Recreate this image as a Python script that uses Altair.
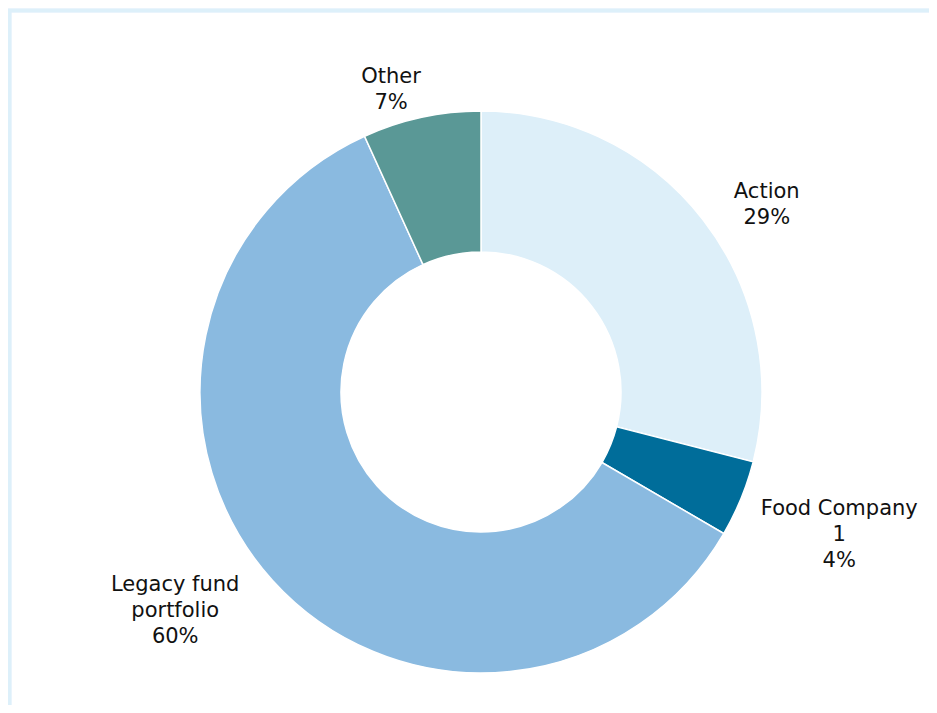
import altair as alt
import pandas as pd

# ---- data ----
categories = ["Action", "Food Company 1", "Legacy fund portfolio", "Other"]
values = [29.0, 4.4, 59.8, 6.8]
labels = ["Action\n29%", "Food Company\n1\n4%", "Legacy fund\nportfolio\n60%", "Other\n7%"]
colors = ["#ddeff9", "#006d9a", "#8abae0", "#5a9896"]

df = pd.DataFrame({
    "category": categories,
    "value": values,
    "label": labels,
    "order": list(range(len(categories))),
})

# ---- layout / style ----
W, H = 921, 697
CX, CY = 473, 384
R_OUT, R_IN = 281, 140
LABEL_R = 330
FONT = "Verdana, DejaVu Sans, sans-serif"
# label nudges (pixels) applied after placing the label at mid-angle
nudges = {
    "Action": (25, 2),
    "Food Company 1": (53, -8),
    "Legacy fund portfolio": (-61, -28),
    "Other": (-20, 7),
}

border_color = "#ddf0fa"

left_border = alt.Chart(df).mark_rule(color=border_color, strokeWidth=3.5).encode(
    x=alt.value(1.5), y=alt.value(1), y2=alt.value(H)
)
top_border = alt.Chart(df).mark_rule(color=border_color, strokeWidth=3.5).encode(
    x=alt.value(0), x2=alt.value(W), y=alt.value(2.5)
)

arcs = alt.Chart(df).mark_arc(
    outerRadius=R_OUT, innerRadius=R_IN, stroke="white", strokeWidth=1.5
).encode(
    theta=alt.Theta("value:Q", stack=True),
    order=alt.Order("order:Q"),
    color=alt.Color("category:N", scale=alt.Scale(domain=categories, range=colors), legend=None),
    x=alt.value(CX),
    y=alt.value(CY),
)

text_layers = []
for cat in categories:
    dx, dy = nudges[cat]
    t = alt.Chart(df).transform_stack(
        stack="value", groupby=[], as_=["v0", "v1"], sort=[alt.SortField("order")]
    ).transform_calculate(
        mid="(datum.v0 + datum.v1) / 2"
    ).transform_filter(
        alt.datum.category == cat
    ).mark_text(
        font=FONT, fontSize=21, lineHeight=26, lineBreak="\n", color="#111111",
        align="center", baseline="middle", dx=dx, dy=dy
    ).encode(
        theta=alt.Theta("mid:Q", stack=None),
        radius=alt.value(LABEL_R),
        text="label:N",
        x=alt.value(CX),
        y=alt.value(CY),
    )
    text_layers.append(t)

chart = alt.layer(left_border, top_border, arcs, *text_layers).properties(
    width=W, height=H, padding=0, autosize=alt.AutoSizeParams(type="none"),
    background="white"
).configure_view(stroke=None)

chart.save("out.html", embed_options={"renderer": "svg", "actions": False})
